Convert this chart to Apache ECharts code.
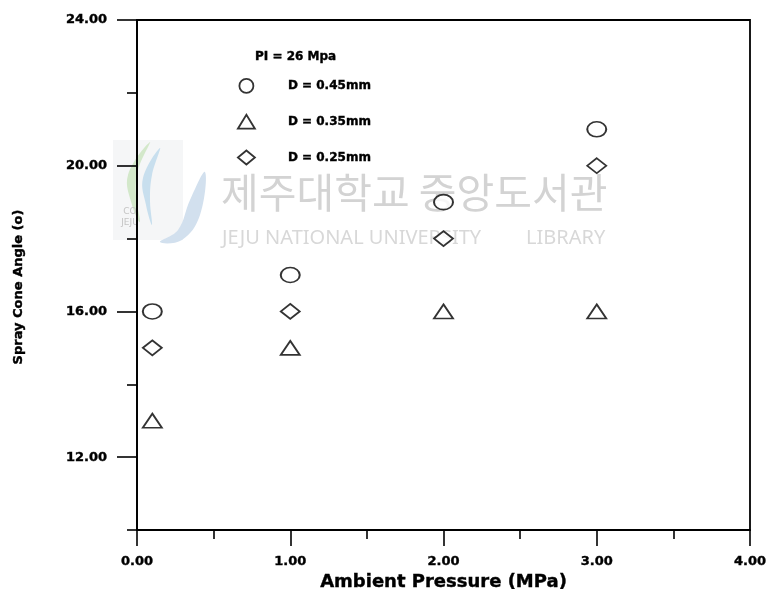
<!DOCTYPE html>
<html>
<head>
<meta charset="utf-8">
<script src="https://cdn.jsdelivr.net/npm/echarts@6/dist/echarts.min.js"></script>
<style>
html,body{margin:0;padding:0;background:#fff;}
#chart{width:774px;height:598px;}
</style>
</head>
<body>
<div id="chart"></div>
<script>
// ---- data ----
const ambientPressure = [0.1, 1.0, 2.0, 3.0];
const angleD045 = [16, 17, 19, 21];
const angleD035 = [13, 15, 16, 16];
const angleD025 = [15, 16, 18, 20];
const seriesNames = ['D = 0.45mm', 'D = 0.35mm', 'D = 0.25mm'];
const yMajorTicks = [12, 16, 20, 24];
const yMinorTicks = [10, 14, 18, 22];
const legendTitle = 'PI = 26 Mpa';
const xAxisTitle = 'Ambient Pressure (MPa)';
const yAxisTitle = 'Spray Cone Angle (o)';

const FONT = 'DejaVu Sans';
const toPairs = (xs, ys) => xs.map((x, i) => [x, ys[i]]);
const markStyle = { color: '#fff', borderColor: '#000', borderWidth: 1.8 };
const heavy = { textBorderColor: '#000', textBorderWidth: 0.4 };

const chart = echarts.init(document.getElementById('chart'), null, { renderer: 'canvas' });

const option = {
  backgroundColor: '#fff',
  animation: false,
  title: {
    text: legendTitle,
    left: 255, top: 51, padding: 0,
    textStyle: Object.assign({ fontFamily: FONT, fontWeight: 'bold', fontSize: 12, color: '#000' }, heavy)
  },
  legend: {
    orient: 'vertical',
    left: 237, top: 78, padding: 0,
    itemWidth: 17, itemHeight: 14,
    itemGap: 20,
    symbolKeepAspect: false,
    data: seriesNames,
    itemStyle: { color: '#fff', borderColor: '#000', borderWidth: 1.8 },
    textStyle: Object.assign({ fontFamily: FONT, fontWeight: 'bold', fontSize: 12, color: '#000', padding: [0, 0, 0, 28] }, heavy)
  },
  grid: {
    left: 137, right: 24, top: 20, bottom: 68,
    show: true, borderColor: '#000', borderWidth: 1.8, backgroundColor: 'transparent'
  },
  xAxis: {
    type: 'value', min: 0, max: 4, interval: 1,
    name: xAxisTitle, nameLocation: 'middle', nameGap: 38,
    nameTextStyle: Object.assign({ fontFamily: FONT, fontWeight: 'bold', fontSize: 18, color: '#000' }, heavy),
    axisLine: { show: true, lineStyle: { color: '#000', width: 1.8 } },
    axisTick: { show: true, inside: false, length: 16, lineStyle: { color: '#000', width: 1.6 } },
    minorTick: { show: true, splitNumber: 2, length: 9, lineStyle: { color: '#000', width: 1.6 } },
    splitLine: { show: false },
    minorSplitLine: { show: false },
    axisLabel: Object.assign({
      margin: 25, fontFamily: FONT, fontWeight: 'bold', fontSize: 13, color: '#000',
      formatter: v => v.toFixed(2)
    }, heavy)
  },
  yAxis: [
    {
      type: 'value', min: 10, max: 24, interval: 2,
      axisLine: { show: true, lineStyle: { color: '#000', width: 1.8 } },
      axisTick: { show: true, inside: false, length: 20, customValues: yMajorTicks, lineStyle: { color: '#000', width: 1.6 } },
      splitLine: { show: false },
      axisLabel: Object.assign({
        margin: 30, fontFamily: FONT, fontWeight: 'bold', fontSize: 13, color: '#000',
        customValues: yMajorTicks,
        formatter: v => v.toFixed(2)
      }, heavy)
    },
    {
      type: 'value', min: 10, max: 24, interval: 2, position: 'left',
      axisLine: { show: false },
      axisTick: { show: true, inside: false, length: 10, customValues: yMinorTicks, lineStyle: { color: '#000', width: 1.6 } },
      splitLine: { show: false },
      axisLabel: { show: false }
    }
  ],
  graphic: [
    // faint library watermark (part of the scanned reference)
    { type: 'rect', x: 113, y: 140, silent: true, z: -11,
      shape: { width: 70, height: 100 }, style: { fill: '#f5f6f7' } },
    { type: 'polygon', silent: true, z: -10,
      shape: { points: [[150, 142], [128, 175], [132, 205], [140, 222], [136, 195], [138, 170]], smooth: 0.4 },
      style: { fill: '#d3e8ca' } },
    { type: 'polygon', silent: true, z: -10,
      shape: { points: [[160, 148], [143, 178], [146, 205], [152, 225], [150, 200], [152, 175]], smooth: 0.4 },
      style: { fill: '#c8dfee' } },
    { type: 'polygon', silent: true, z: -10,
      shape: { points: [[205, 172], [190, 200], [178, 230], [160, 242], [182, 240], [200, 215]], smooth: 0.4 },
      style: { fill: '#d2e0ee' } },
    { type: 'text', x: 130, y: 206, silent: true, z: -10,
      style: { text: 'CO\nJEJU', font: '9px "DejaVu Sans"', fill: '#c4c4c4', lineHeight: 11, align: 'center' } },
    { type: 'text', x: 221, y: 192, silent: true, z: -10,
      style: { text: '제주대학교 중앙도서관', font: '41px "Noto Sans CJK KR"', fill: '#d3d3d3', verticalAlign: 'middle' } },
    { type: 'text', x: 222, y: 238, silent: true, z: -10,
      style: { text: 'JEJU NATIONAL UNIVERSITY', font: '20px "Noto Sans"', fill: '#d8d8d8', verticalAlign: 'middle' } },
    { type: 'text', x: 526, y: 238, silent: true, z: -10,
      style: { text: 'LIBRARY', font: '20px "Noto Sans"', fill: '#d8d8d8', verticalAlign: 'middle' } },
    // y axis title
    { type: 'text', x: 19, y: 287, rotation: Math.PI / 2,
      style: { text: yAxisTitle, font: 'bold 13px "DejaVu Sans"', fill: '#000', stroke: '#000', lineWidth: 0.4, align: 'center', verticalAlign: 'middle' } }
  ],
  series: [
    { name: seriesNames[0], type: 'scatter', symbol: 'circle', symbolSize: [19, 15],
      itemStyle: markStyle, data: toPairs(ambientPressure, angleD045) },
    { name: seriesNames[1], type: 'scatter', symbol: 'triangle', symbolSize: [19, 14],
      itemStyle: markStyle, data: toPairs(ambientPressure, angleD035) },
    { name: seriesNames[2], type: 'scatter', symbol: 'diamond', symbolSize: [19, 15],
      itemStyle: markStyle, data: toPairs(ambientPressure, angleD025) }
  ]
};
chart.setOption(option);
</script>
</body>
</html>
